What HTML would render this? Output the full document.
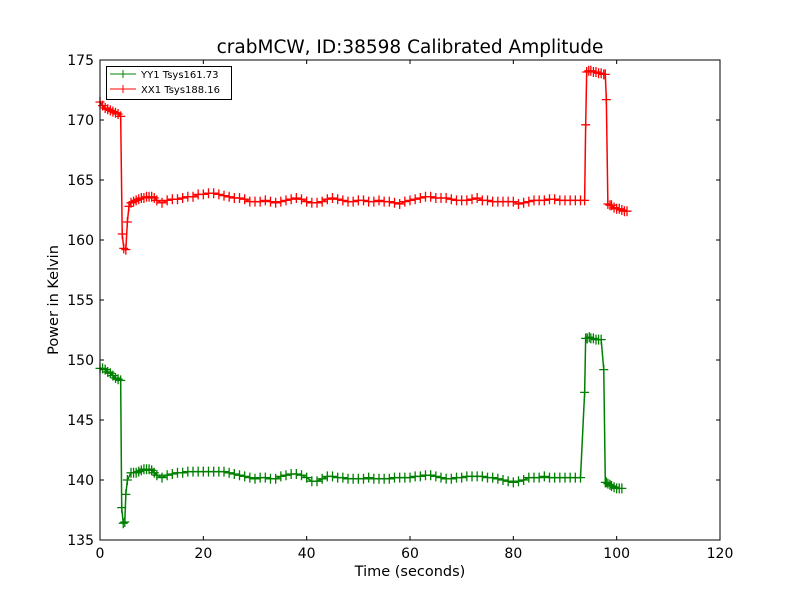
<!DOCTYPE html>
<html><head><meta charset="utf-8"><style>
body{margin:0;background:#fff;}
svg{font-family:"DejaVu Sans","Liberation Sans",sans-serif;}
</style></head><body>
<svg id="c" width="800" height="600"></svg>
<script>
const xTicks=[0,20,40,60,80,100,120];
const yTicks=[135,140,145,150,155,160,165,170,175];
const redT=[0,0.5,1,1.5,2,2.5,3,3.5,4,4.3,4.6,5,5.3,5.6,6,6.5,7,7.5,8,8.5,9,9.5,10,10.5,11,12,13,14,15,16,17,18,19,20,21,22,23,24,25,26,27,28,29,30,31,32,33,34,35,36,37,38,39,40,41,42,43,44,45,46,47,48,49,50,51,52,53,54,55,56,57,58,59,60,61,62,63,64,65,66,67,68,69,70,71,72,73,74,75,76,77,78,79,80,81,82,83,84,85,86,87,88,89,90,91,92,93,93.8,94,94.2,94.6,95,95.5,96,96.5,97,97.5,97.8,98,98.3,98.7,99,99.5,100,100.5,101,101.5,102];
const redV=[171.5,171.2,171,170.9,170.8,170.7,170.6,170.5,170.3,160.5,159.3,159.2,161.5,162.8,163.1,163.2,163.3,163.4,163.5,163.5,163.6,163.6,163.6,163.5,163.3,163.1,163.3,163.4,163.4,163.5,163.6,163.6,163.8,163.8,163.9,163.9,163.8,163.7,163.6,163.5,163.5,163.4,163.2,163.2,163.2,163.3,163.2,163.1,163.2,163.3,163.4,163.5,163.4,163.2,163.1,163.1,163.2,163.4,163.5,163.4,163.3,163.2,163.2,163.3,163.3,163.2,163.2,163.3,163.2,163.2,163.1,163.0,163.2,163.3,163.4,163.5,163.6,163.6,163.5,163.5,163.5,163.4,163.3,163.3,163.3,163.4,163.5,163.3,163.3,163.2,163.2,163.2,163.2,163.2,163.0,163.1,163.2,163.3,163.3,163.3,163.4,163.4,163.3,163.3,163.3,163.3,163.3,163.3,169.6,174.0,174.1,174.1,174.0,174.0,173.9,173.9,173.8,173.8,171.7,163.0,162.9,162.9,162.7,162.6,162.6,162.5,162.4,162.4];
const greenT=[0,0.5,1,1.5,2,2.5,3,3.5,4,4.2,4.5,4.8,5,5.3,6,6.5,7,7.5,8,8.5,9,9.5,10,10.5,11,12,13,14,15,16,17,18,19,20,21,22,23,24,25,26,27,28,29,30,31,32,33,34,35,36,37,38,39,40,41,42,43,44,45,46,47,48,49,50,51,52,53,54,55,56,57,58,59,60,61,62,63,64,65,66,67,68,69,70,71,72,73,74,75,76,77,78,79,80,81,82,83,84,85,86,87,88,89,90,91,92,93,93.8,94,94.3,94.7,95,95.5,96,96.5,97,97.5,97.8,98,98.3,98.7,99,99.5,100,100.5,101,101.5,102];
const greenV=[149.3,149.3,149.2,149.0,148.9,148.7,148.5,148.4,148.3,137.7,136.4,136.5,138.8,140,140.6,140.6,140.6,140.7,140.8,140.9,140.9,140.9,140.8,140.6,140.4,140.2,140.4,140.5,140.6,140.6,140.7,140.7,140.7,140.7,140.7,140.7,140.7,140.7,140.6,140.5,140.4,140.3,140.2,140.1,140.2,140.2,140.1,140.1,140.3,140.4,140.5,140.5,140.4,140.2,139.9,139.9,140.1,140.3,140.3,140.2,140.2,140.1,140.1,140.1,140.1,140.2,140.1,140.1,140.1,140.1,140.2,140.2,140.2,140.2,140.3,140.3,140.4,140.4,140.3,140.2,140.1,140.1,140.2,140.2,140.3,140.3,140.3,140.3,140.2,140.2,140.1,140.0,139.9,139.8,139.9,140.0,140.2,140.2,140.2,140.3,140.2,140.2,140.2,140.2,140.2,140.2,140.2,147.3,151.8,151.8,151.9,151.8,151.8,151.7,151.7,151.7,149.2,139.8,139.8,139.7,139.6,139.5,139.4,139.3,139.3,139.3];
const NS='http://www.w3.org/2000/svg';
const svg=document.getElementById('c');
const L=100,R=720,T=60,B=540;
const sx=v=>L+(v-0)/120*(R-L);
const sy=v=>B-(v-135)/40*(B-T);
function mk(tag,attrs,parent){const e=document.createElementNS(NS,tag);for(const k in attrs)e.setAttribute(k,attrs[k]);(parent||svg).appendChild(e);return e;}
function series(ts,vs,color,name){
  const g=mk('g',{});
  
  
  let d='';ts.forEach((t,i)=>{d+=(i?'L':'M')+sx(t)+' '+sy(vs[i]);});
  const p=mk('path',{d:d,fill:'none',stroke:color,'stroke-width':1.5},g);
  
  
  let m='';ts.forEach((t,i)=>{const x=sx(t),y=sy(vs[i]);m+=`M${x-4.5} ${y}H${x+4.5}M${x} ${y-5}V${y+5}`;});
  const mp=mk('path',{d:m,stroke:color,'stroke-width':1.3,fill:'none'},g);
  
  
}
series(greenT,greenV,'#008000','series-yy1');
series(redT,redV,'#ff0000','series-xx1');
const frame=mk('rect',{x:L,y:T,width:R-L,height:B-T,fill:'none',stroke:'#000','stroke-width':1});


xTicks.forEach(v=>{const x=sx(v);
  mk('line',{x1:x,x2:x,y1:B,y2:B-4,stroke:'#000'});mk('line',{x1:x,x2:x,y1:T,y2:T+4,stroke:'#000'});
  const t=mk('text',{x:x,y:B+18,'text-anchor':'middle','font-size':14});t.textContent=v;
  
  });
yTicks.forEach(v=>{const y=sy(v);
  mk('line',{x1:L,x2:L+4,y1:y,y2:y,stroke:'#000'});mk('line',{x1:R,x2:R-4,y1:y,y2:y,stroke:'#000'});
  const t=mk('text',{x:L-6,y:y+5,'text-anchor':'end','font-size':14});t.textContent=v;
  
  });
</script>
<svg width="800" height="600" style="position:absolute;left:0;top:0">
<text x="410" y="53" text-anchor="middle" font-size="18.5">crabMCW, ID:38598 Calibrated Amplitude</text>
<text x="410" y="576" text-anchor="middle" font-size="14.5">Time (seconds)</text>
<text x="58" y="300" text-anchor="middle" font-size="14.5" transform="rotate(-90 58 300)">Power in Kelvin</text>
<g>
<rect x="106.5" y="66.5" width="125" height="33" fill="#fff" stroke="#000"/>
<g><line x1="110" x2="136" y1="74" y2="74" stroke="#008000"/><line x1="123" x2="123" y1="70" y2="78" stroke="#008000"/><text x="141" y="78" font-size="10">YY1 Tsys161.73</text></g>
<g><line x1="110" x2="136" y1="89" y2="89" stroke="#ff0000"/><line x1="123" x2="123" y1="85" y2="93" stroke="#ff0000"/><text x="141" y="93" font-size="10">XX1 Tsys188.16</text></g>
</g>
</svg>
</body></html>
